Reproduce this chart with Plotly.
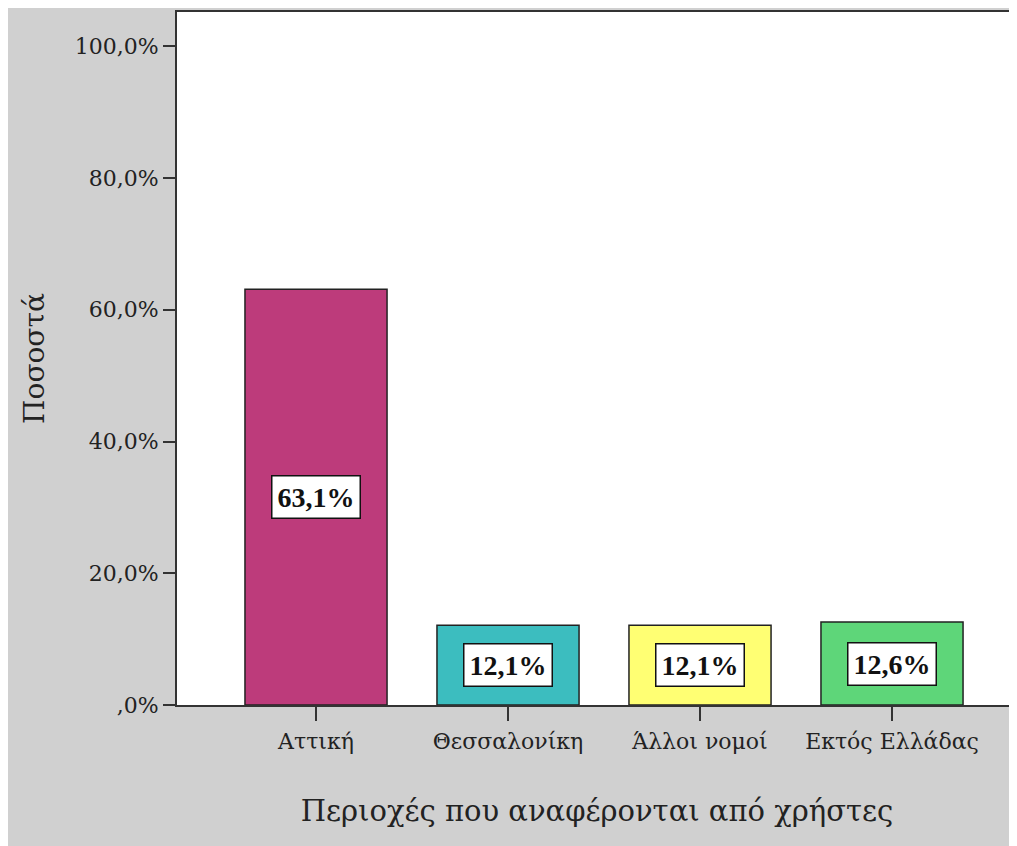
import plotly.graph_objects as go

categories = ["Αττική", "Θεσσαλονίκη", "Άλλοι νομοί", "Εκτός Ελλάδας"]
percentages = [63.1, 12.1, 12.1, 12.6]
bar_colors = ["#bd3b7b", "#3cbdbf", "#ffff73", "#5ed679"]
y_ticks = [0, 20, 40, 60, 80, 100]
y_tick_labels = [",0%", "20,0%", "40,0%", "60,0%", "80,0%", "100,0%"]

SERIF = "DejaVu Serif, serif"
LABEL_FONT = "Liberation Serif, Times New Roman, serif"
INK = "#222222"

fig = go.Figure()
fig.add_trace(go.Bar(
    x=categories, y=percentages,
    marker=dict(color=bar_colors, line=dict(color=INK, width=1.5)),
    width=0.74, showlegend=False, hoverinfo="skip",
))

# value labels in white boxes, centred on each bar
for cat, val in zip(categories, percentages):
    fig.add_annotation(
        x=cat, y=val / 2, text=f"<b>{val:.1f}%</b>".replace(".", ","),
        showarrow=False, font=dict(family=LABEL_FONT, size=28, color="#111111"),
        bgcolor="white", bordercolor="#111111", borderwidth=1.5, borderpad=5,
    )

# page has an 8px body margin, so the grey paper starts just inside the window
fig.update_layout(
    width=1009, height=838,
    margin=dict(l=169, r=0, t=4, b=141),
    paper_bgcolor="#d0d0d0", plot_bgcolor="white",
    font=dict(family=SERIF, color=INK),
)
fig.update_xaxes(
    range=[-0.724, 3.651], showline=True, linecolor="#333333", linewidth=2,
    mirror=True, ticks="outside", ticklen=14, tickcolor="#333333", tickwidth=1.5,
    tickfont=dict(family=SERIF, size=22, color=INK), ticklabelstandoff=2,
    title=dict(text="Περιοχές που αναφέρονται από χρήστες",
               font=dict(family=SERIF, size=29, color=INK), standoff=47),
    showgrid=False,
)
fig.update_yaxes(
    range=[0, 105.2], tickvals=y_ticks, ticktext=y_tick_labels,
    showline=True, linecolor="#333333", linewidth=2,
    ticks="outside", ticklen=12, tickcolor="#333333", tickwidth=1.5,
    tickfont=dict(family=SERIF, size=22, color=INK), ticklabelstandoff=0,
    title=dict(text="Ποσοστά", font=dict(family=SERIF, size=28, color=INK),
               standoff=22),
    showgrid=False, zeroline=False,
)

fig.write_html("out.html")
